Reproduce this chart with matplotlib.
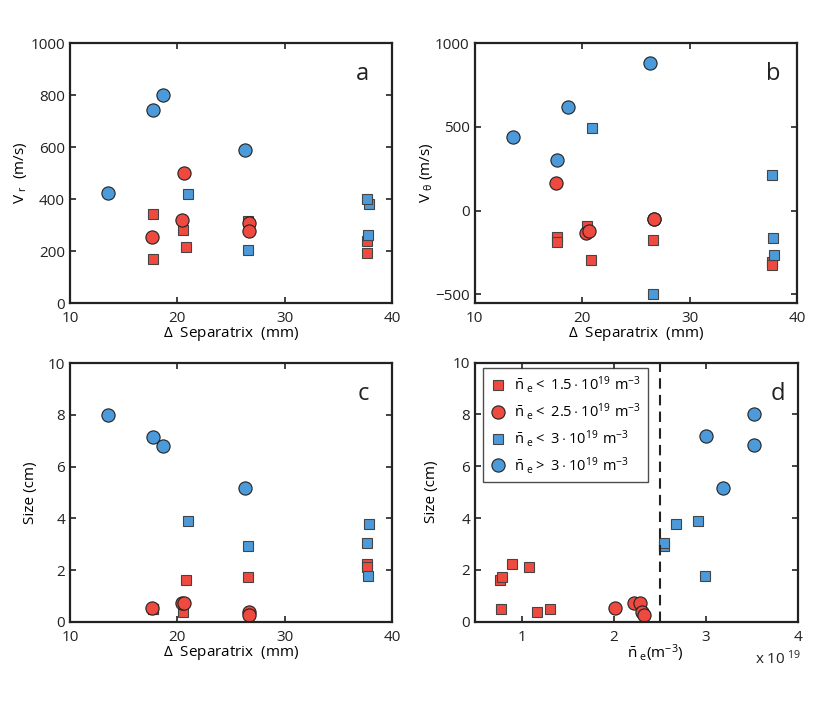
import matplotlib

matplotlib.use("Agg")
import matplotlib.pyplot as plt
from matplotlib.lines import Line2D

plt.rcParams["font.family"] = ["Open Sans", "DejaVu Sans"]
plt.rcParams["mathtext.fontset"] = "custom"
plt.rcParams["mathtext.rm"] = "Open Sans"
plt.rcParams["mathtext.it"] = "Open Sans"
plt.rcParams["font.size"] = 11

RED = "#EF4A3F"
BLUE = "#4C9ADA"

# red squares: ne < 1.5e19
rs_sep = [17.7, 17.7, 20.5, 20.8, 26.6, 37.7, 37.7]
rs_vr = [343, 170, 281, 217, 315, 240, 194]
rs_vt = [-159, -185, -89, -293, -175, -307, -327]
rs_size = [0.48, 0.49, 0.39, 1.61, 1.73, 2.22, 2.10]
rs_ne = [0.77, 1.31, 1.16, 0.76, 0.78, 0.89, 1.08]

# red circles: ne < 2.5e19
rc_sep = [17.6, 20.4, 20.65, 26.7, 26.7]
rc_vr = [253, 320, 499, 308, 278]
rc_vt = [164, -133, -123, -47, -52]
rc_size = [0.54, 0.71, 0.74, 0.39, 0.25]
rc_ne = [2.01, 2.22, 2.28, 2.30, 2.33]

# blue squares: ne < 3e19
bs_sep = [20.95, 26.6, 37.85, 37.7, 37.76]
bs_vr = [419, 206, 383, 400, 260]
bs_vt = [495, -500, -267, 214, -161]
bs_size = [3.90, 2.94, 3.78, 3.03, 1.76]
bs_ne = [2.91, 2.54, 2.67, 2.55, 2.99]

# blue circles: ne > 3e19
bc_sep = [13.55, 17.7, 18.67, 26.35]
bc_vr = [422, 744, 801, 590]
bc_vt = [441, 304, 617, 884]
bc_size = [8.01, 7.16, 6.81, 5.16]
bc_ne = [3.52, 3.0, 3.52, 3.19]

labels = [
    r"$\bar{\mathrm{n}}_{\ \mathrm{e}} < \ 1.5 \cdot 10^{19}\ \mathrm{m}^{-3}$",
    r"$\bar{\mathrm{n}}_{\ \mathrm{e}} < \ 2.5 \cdot 10^{19}\ \mathrm{m}^{-3}$",
    r"$\bar{\mathrm{n}}_{\ \mathrm{e}} < \ 3 \cdot 10^{19}\ \mathrm{m}^{-3}$",
    r"$\bar{\mathrm{n}}_{\ \mathrm{e}} > \ 3 \cdot 10^{19}\ \mathrm{m}^{-3}$",
]

sq = dict(marker="s", ms=7.5, mec="#444444", mew=0.8, ls="none")
ci = dict(marker="o", ms=9.5, mec="#222222", mew=0.8, ls="none")


def draw(ax, xs, ys):
    ax.plot(xs[0], ys[0], color=RED, mfc=RED, **sq)
    ax.plot(xs[1], ys[1], color=RED, mfc=RED, **ci)
    ax.plot(xs[2], ys[2], color=BLUE, mfc=BLUE, **sq)
    ax.plot(xs[3], ys[3], color=BLUE, mfc=BLUE, **ci)


def style(ax, letter, lx=0.93):
    for s in ax.spines.values():
        s.set_linewidth(1.6)
        s.set_color("#222222")
    ax.tick_params(direction="in", top=True, right=True, length=4, width=1.2,
                   labelsize=11, colors="#222222")
    ax.tick_params(axis="x", pad=6)
    ax.text(lx, 0.88, letter, transform=ax.transAxes, fontsize=17,
            ha="right", va="center", color="#222222")


fig = plt.figure(figsize=(8.3, 7.06), dpi=100)
ax_a = fig.add_axes([0.0843, 0.5708, 0.388, 0.3679])
ax_b = fig.add_axes([0.5717, 0.5708, 0.3886, 0.3679])
ax_c = fig.add_axes([0.0843, 0.1194, 0.388, 0.366])
ax_d = fig.add_axes([0.5723, 0.1194, 0.389, 0.367])

seps = [rs_sep, rc_sep, bs_sep, bc_sep]

draw(ax_a, seps, [rs_vr, rc_vr, bs_vr, bc_vr])
ax_a.set_xlim(10, 40)
ax_a.set_xticks([10, 20, 30, 40])
ax_a.set_ylim(0, 1000)
ax_a.set_yticks([0, 200, 400, 600, 800, 1000])
ax_a.set_ylabel(r"V$_{\ \mathrm{r}}$  (m/s)", labelpad=1)
ax_a.set_xlabel(r"$\Delta$  Separatrix  (mm)", labelpad=-1)
style(ax_a, "a")

draw(ax_b, seps, [rs_vt, rc_vt, bs_vt, bc_vt])
ax_b.set_xlim(10, 40)
ax_b.set_xticks([10, 20, 30, 40])
ax_b.set_ylim(-552, 1000)
ax_b.set_yticks([-500, 0, 500, 1000])
ax_b.set_yticklabels(["\u2212500", "0", "500", "1000"])
ax_b.set_ylabel(r"V$_{\ \theta}$ (m/s)", labelpad=0)
ax_b.set_xlabel(r"$\Delta$  Separatrix  (mm)", labelpad=-1)
style(ax_b, "b", 0.95)

draw(ax_c, seps, [rs_size, rc_size, bs_size, bc_size])
ax_c.set_xlim(10, 40)
ax_c.set_xticks([10, 20, 30, 40])
ax_c.set_ylim(0, 10)
ax_c.set_ylabel("Size (cm)", labelpad=7)
ax_c.set_xlabel(r"$\Delta$  Separatrix  (mm)", labelpad=-1)
style(ax_c, "c")

draw(ax_d, [rs_ne, rc_ne, bs_ne, bc_ne], [rs_size, rc_size, bs_size, bc_size])
ax_d.axvline(2.5, color="#222222", ls=(0, (5, 3)), lw=1.5)
ax_d.set_xlim(0.49, 4)
ax_d.set_ylim(0, 10)
ax_d.set_xticks([1, 2, 3, 4])
ax_d.set_ylabel("Size (cm)", labelpad=10)
ax_d.set_xlabel(r"$\bar{\mathrm{n}}_{\ \mathrm{e}}(\mathrm{m}^{-3})$", labelpad=0)
ax_d.xaxis.set_label_coords(0.557, -0.08)
ax_d.text(1.01, -0.105, r"x 10$^{\ 19}$", transform=ax_d.transAxes, ha="right",
          va="top", fontsize=11, color="#222222")
style(ax_d, "d", 0.96)

handles = [
    Line2D([], [], color=RED, mfc=RED, **sq),
    Line2D([], [], color=RED, mfc=RED, **ci),
    Line2D([], [], color=BLUE, mfc=BLUE, **sq),
    Line2D([], [], color=BLUE, mfc=BLUE, **ci),
]
leg = ax_d.legend(handles, labels, loc="upper left", bbox_to_anchor=(0.025, 0.98),
                  fontsize=10.5, frameon=True, fancybox=False, edgecolor="#222222",
                  handletextpad=0.5, borderpad=0.45, labelspacing=0.4,
                  handlelength=1.2, borderaxespad=0)
leg.get_frame().set_linewidth(1.0)

fig.savefig("out.png", dpi=100)
